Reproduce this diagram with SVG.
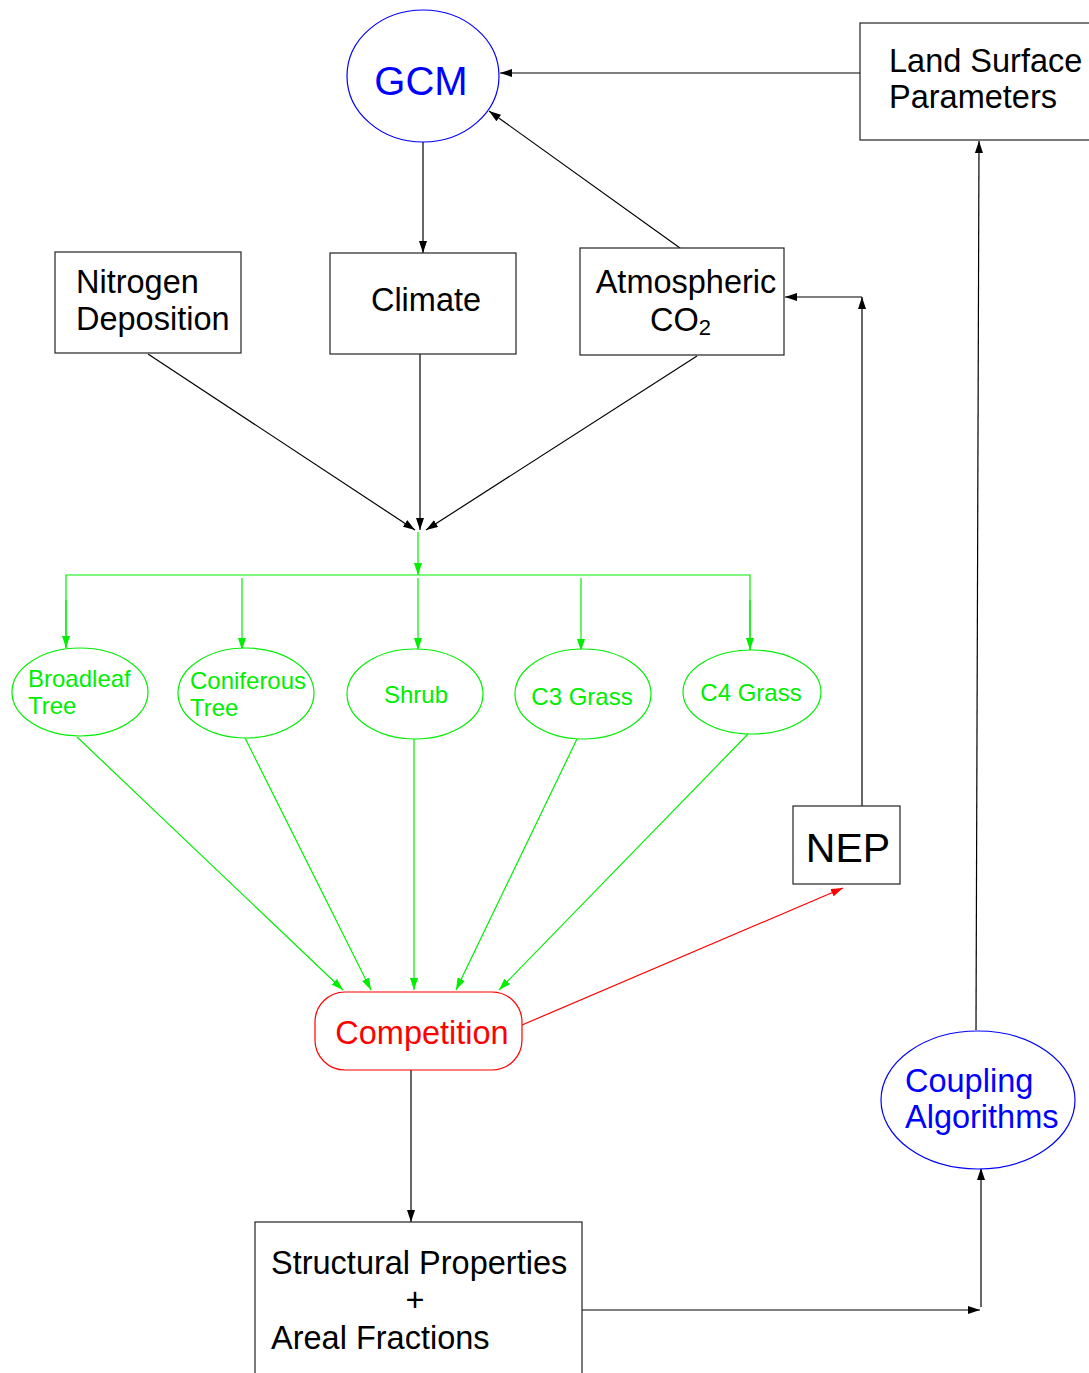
<svg xmlns="http://www.w3.org/2000/svg" width="1089" height="1373" viewBox="0 0 1089 1373">
<defs>
<marker id="ab" markerWidth="12" markerHeight="8" refX="12" refY="4" orient="auto" markerUnits="userSpaceOnUse"><path d="M0,0 L12,4 L0,8 Z" fill="#000"/></marker>
<marker id="ag" markerWidth="12" markerHeight="8" refX="12" refY="4" orient="auto" markerUnits="userSpaceOnUse"><path d="M0,0 L12,4 L0,8 Z" fill="#00ee00"/></marker>
<marker id="ar" markerWidth="12" markerHeight="8" refX="12" refY="4" orient="auto" markerUnits="userSpaceOnUse"><path d="M0,0 L12,4 L0,8 Z" fill="#ff0000"/></marker>
</defs>
<style>
text{font-family:"Liberation Sans",Arial,sans-serif}
.box{fill:#fff;stroke:#222;stroke-width:1.2}
.t{font-size:32.5px;fill:#000}
.g{fill:#fff;stroke:#00ee00;stroke-width:1.2}
.gt{font-size:24px;fill:#00ee00}
.bl{stroke:#000;stroke-width:1.2;fill:none}
.gl{stroke:#00ee00;stroke-width:1.2;fill:none}
.rl{stroke:#ff0000;stroke-width:1.2;fill:none}
</style>
<rect width="1089" height="1373" fill="#fff"/>
<g id="connectors">
<line class="bl" x1="860" y1="73" x2="500" y2="73" marker-end="url(#ab)"/>
<line class="bl" x1="680" y1="248" x2="489" y2="111" marker-end="url(#ab)"/>
<line class="bl" x1="423" y1="142" x2="423" y2="253" marker-end="url(#ab)"/>
<line class="bl" x1="148" y1="354" x2="415" y2="530" marker-end="url(#ab)"/>
<line class="bl" x1="420" y1="354" x2="420" y2="530" marker-end="url(#ab)"/>
<line class="bl" x1="697" y1="356" x2="426" y2="530" marker-end="url(#ab)"/>
<line class="gl" x1="418" y1="532" x2="418" y2="575" marker-end="url(#ag)"/>
<polyline class="gl" points="66,648 66,575 750,575 750,650" />
<line class="gl" x1="66" y1="600" x2="66" y2="648" marker-end="url(#ag)"/>
<line class="gl" x1="750" y1="600" x2="750" y2="650" marker-end="url(#ag)"/>
<line class="gl" x1="242" y1="578" x2="242" y2="650" marker-end="url(#ag)"/>
<line class="gl" x1="418" y1="578" x2="418" y2="650" marker-end="url(#ag)"/>
<line class="gl" x1="581" y1="578" x2="581" y2="651" marker-end="url(#ag)"/>
<line class="gl" x1="77" y1="737" x2="343" y2="990" marker-end="url(#ag)"/>
<line class="gl" x1="245" y1="738" x2="371" y2="990" marker-end="url(#ag)"/>
<line class="gl" x1="414" y1="736" x2="414" y2="990" marker-end="url(#ag)"/>
<line class="gl" x1="577" y1="739" x2="456" y2="990" marker-end="url(#ag)"/>
<line class="gl" x1="748" y1="734" x2="499" y2="990" marker-end="url(#ag)"/>
<line class="rl" x1="522" y1="1025" x2="843" y2="888" marker-end="url(#ar)"/>
<line class="bl" x1="862" y1="806" x2="862" y2="297" marker-end="url(#ab)"/>
<line class="bl" x1="862" y1="297" x2="785" y2="297" marker-end="url(#ab)"/>
<line class="bl" x1="411" y1="1070" x2="411" y2="1222" marker-end="url(#ab)"/>
<line class="bl" x1="582" y1="1310" x2="980" y2="1310" marker-end="url(#ab)"/>
<line class="bl" x1="981" y1="1307" x2="981" y2="1168" marker-end="url(#ab)"/>
<line class="bl" x1="976" y1="1030" x2="979" y2="141" marker-end="url(#ab)"/>
</g>
<g id="gcm"><ellipse cx="423" cy="76" rx="76" ry="66" fill="#fff" stroke="#0000ff" stroke-width="1.2"/><text x="421" y="95" font-size="40" fill="#0000ff" text-anchor="middle">GCM</text></g>
<g id="land"><rect class="box" x="860" y="23" width="240" height="117"/><text class="t" x="889" y="72">Land Surface</text><text class="t" x="889" y="108">Parameters</text></g>
<g id="nitrogen"><rect class="box" x="55" y="252" width="186" height="101"/><text class="t" x="76" y="293">Nitrogen</text><text class="t" x="76" y="330">Deposition</text></g>
<g id="climate"><rect class="box" x="330" y="253" width="186" height="101"/><text class="t" x="426" y="311" text-anchor="middle">Climate</text></g>
<g id="co2"><rect class="box" x="580" y="248" width="204" height="107"/><text class="t" x="686" y="293" text-anchor="middle">Atmospheric</text><text class="t" x="650" y="331">CO<tspan font-size="22" dy="4">2</tspan></text></g>
<g id="broadleaf"><ellipse class="g" cx="80" cy="692" rx="68" ry="44"/><text class="gt" x="28" y="687">Broadleaf</text><text class="gt" x="28" y="714">Tree</text></g>
<g id="coniferous"><ellipse class="g" cx="246" cy="693" rx="68" ry="45"/><text class="gt" x="190" y="689">Coniferous</text><text class="gt" x="190" y="716">Tree</text></g>
<g id="shrub"><ellipse class="g" cx="415" cy="694" rx="68" ry="45"/><text class="gt" x="416" y="703" text-anchor="middle">Shrub</text></g>
<g id="c3"><ellipse class="g" cx="583" cy="694" rx="68" ry="45"/><text class="gt" x="582" y="705" text-anchor="middle">C3 Grass</text></g>
<g id="c4"><ellipse class="g" cx="752" cy="692" rx="69" ry="42"/><text class="gt" x="751" y="701" text-anchor="middle">C4 Grass</text></g>
<g id="competition"><rect x="315" y="992" width="207" height="78" rx="30" ry="30" fill="#fff" stroke="#ff0000" stroke-width="1.2"/><text x="422" y="1044" font-size="32.5" fill="#ff0000" text-anchor="middle">Competition</text></g>
<g id="nep"><rect class="box" x="793" y="806" width="107" height="78"/><text x="848" y="862" font-size="41" text-anchor="middle">NEP</text></g>
<g id="structural"><rect class="box" x="255" y="1222" width="327" height="160"/><text class="t" x="271" y="1274">Structural Properties</text><text class="t" x="415" y="1311" text-anchor="middle">+</text><text class="t" x="271" y="1349">Areal Fractions</text></g>
<g id="coupling"><ellipse cx="978" cy="1100" rx="97" ry="69" fill="#fff" stroke="#0000ff" stroke-width="1.2"/><text x="905" y="1092" font-size="32.5" fill="#0000ff">Coupling</text><text x="905" y="1128" font-size="32.5" fill="#0000ff">Algorithms</text></g>
</svg>
